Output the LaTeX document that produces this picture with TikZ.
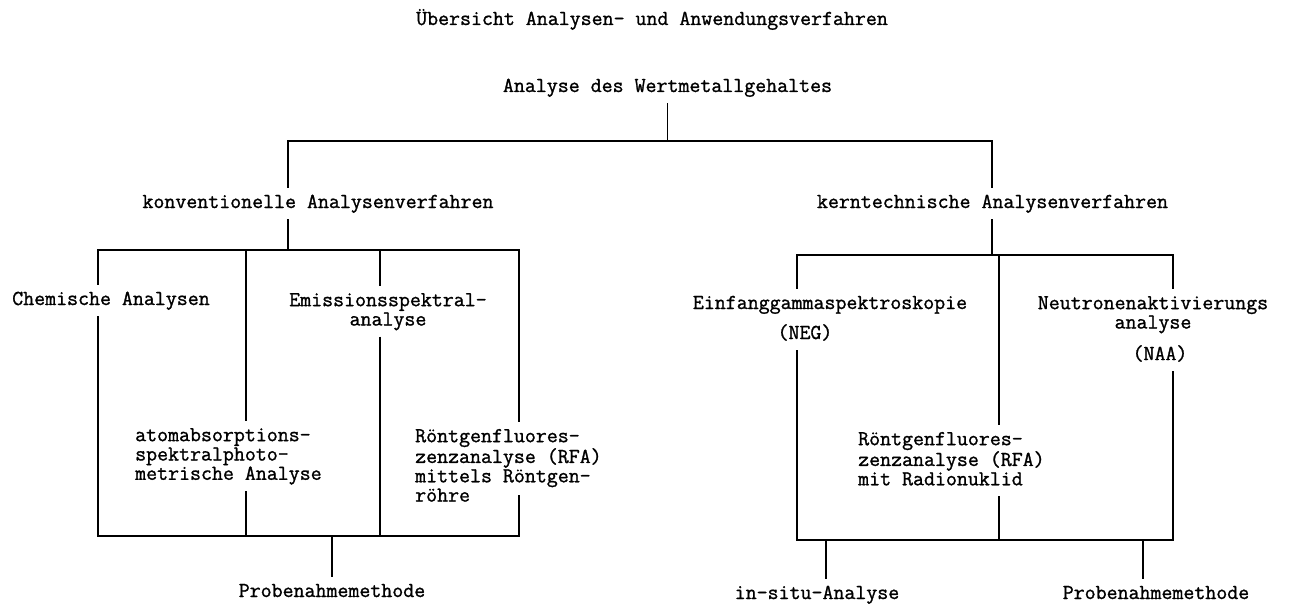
\documentclass[tikz,border=0pt]{standalone}
\usepackage{fontspec}
\setmonofont{Latin Modern Mono}[FakeBold=1.2]
\usetikzlibrary{calc}

% strut: height 14pt, depth 5pt
\newcommand\sr{\rule[-5pt]{0pt}{19pt}}

\begin{document}
\begin{tikzpicture}[
  x=1pt, y=-1pt,
  font=\ttfamily\fontsize{21.3}{19.3}\selectfont,
  lbl/.style={inner xsep=0pt, inner ysep=6pt, anchor=base},
  blk/.style={inner xsep=0pt, inner ysep=6pt, anchor=north west, align=left},
  tree/.style={line width=1.8pt}
]
\useasboundingbox (0,0) rectangle (1290,604);

% ---------- Head ----------
\node[lbl] (title) at (652,25) {\sr Übersicht Analysen- und Anwendungsverfahren};
\node[lbl] (root)  at (667.5,92) {\sr Analyse des Wertmetallgehaltes};
\node[lbl] (conv)  at (318,208) {\sr konventionelle Analysenverfahren};
\node[lbl] (kern)  at (992.5,208) {\sr kerntechnische Analysenverfahren};

% ---------- Conventional methods ----------
\node[lbl] (chem) at (111,305) {\sr Chemische Analysen};
\node[blk, anchor=north, align=center] (emis) at (388,286)
  {\sr Emissionsspektral-\\\sr analyse};
\node[blk] (aas) at (135,421)
  {\sr atomabsorptions-\\\sr spektralphoto-\\\sr metrische Analyse};
\node[blk] (rfaL) at (415,422)
  {\sr Röntgenfluores-\\\sr zenzanalyse (RFA)\\\sr mittels Röntgen-\\\sr röhre};
\node[lbl] (probeL) at (332,597) {\sr Probenahmemethode};

% ---------- Nuclear methods ----------
\node[lbl] (einf) at (830,309) {\sr Einfanggammaspektroskopie};
\node[lbl] (neg)  at (805,339) {\sr (NEG)};
\node[blk, anchor=north, align=center] (neut) at (1153,289)
  {\sr Neutronenaktivierungs\\\sr analyse};
\node[lbl] (naa)  at (1160,360) {\sr (NAA)};
\node[blk] (rfaR) at (858,425)
  {\sr Röntgenfluores-\\\sr zenzanalyse (RFA)\\\sr mit Radionuklid};
\node[lbl] (situ)   at (817,599) {\sr in-situ-Analyse};
\node[lbl] (probeR) at (1156,599) {\sr Probenahmemethode};

% ---------- Junctions ----------
\coordinate (jl) at (288,141);
\coordinate (jr) at (992,141);
\coordinate (c1) at (98,250);
\coordinate (c2) at (246,250);
\coordinate (c3) at (380,250);
\coordinate (c4) at (519,250);
\coordinate (bl) at (0,536);
\coordinate (r1) at (797,255);
\coordinate (r2) at (999,255);
\coordinate (r3) at (1173,255);
\coordinate (rb) at (0,540);

% ---------- Top level ----------
\draw[tree] (root.south) -- (root.south |- jl);
\draw[tree] (conv.north -| jl) |- (jr) -- (kern.north -| jr);
\draw[tree] (conv.south -| jl) -- (jl |- c1);
\draw[tree] (kern.south -| jr) -- (jr |- r1);

% ---------- Left block ----------
\draw[tree] (chem.north -| c1) |- (c4) -- (rfaL.north -| c4);
\draw[tree] (c2) -- (aas.north -| c2);
\draw[tree] (aas.south -| c2) -- (c2 |- bl);
\draw[tree] (c3) -- (emis.north -| c3);
\draw[tree] (emis.south -| c3) -- (c3 |- bl);
\draw[tree] (chem.south -| c1) |- (c4 |- bl) -- ++(0,-41);
\draw[tree] (probeL.north) -- (probeL.north |- bl);

% ---------- Right block ----------
\draw[tree] (einf.north -| r1) |- (r3) -- (neut.north -| r3);
\draw[tree] (r2) -- (rfaR.north -| r2);
\draw[tree] (rfaR.south -| r2) -- (r2 |- rb);
\draw[tree] (neg.south -| r1) |- (r3 |- rb) -- (naa.south -| r3);
\draw[tree] ([xshift=9pt]situ.north) -- ([xshift=9pt]situ.north |- rb);
\draw[tree] ([xshift=-13pt]probeR.north) -- ([xshift=-13pt]probeR.north |- rb);
\end{tikzpicture}
\end{document}
